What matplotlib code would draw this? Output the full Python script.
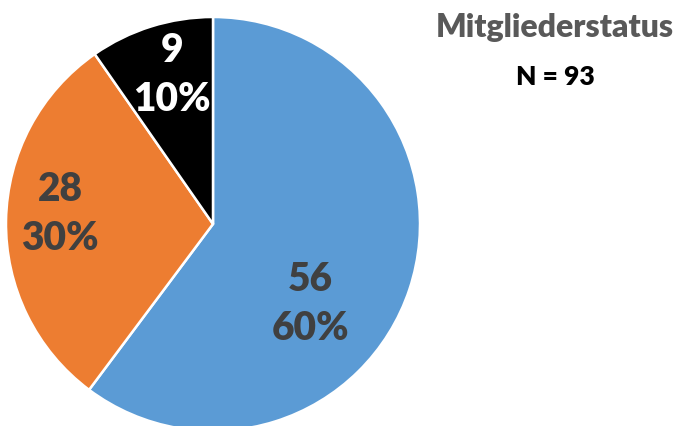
import matplotlib
matplotlib.use('Agg')
import matplotlib.pyplot as plt

plt.rcParams['font.family'] = ['Lato', 'DejaVu Sans']

# data
categories = ['A', 'B', 'C']
counts = [56, 28, 9]
percents = ['60%', '30%', '10%']
colors = ['#5B9BD5', '#ED7D31', '#000000']
label_colors = ['#404040', '#404040', '#FFFFFF']
title = 'Mitgliederstatus'
subtitle = 'N = 93'

# label placement in axes data units (Excel puts them off the wedge middle)
label_pos = [(0.469, -0.382), (-0.739, 0.053), (-0.198, 0.725)]

fig = plt.figure(figsize=(6.87, 4.27), dpi=100)
r_px = 207
cx, cy = 213, 225
ax = fig.add_axes([(cx - r_px) / 687, (427 - cy - r_px) / 427,
                   2 * r_px / 687, 2 * r_px / 427])

ax.pie(counts, colors=colors, startangle=90, counterclock=False,
       wedgeprops=dict(edgecolor='white', linewidth=1.8), radius=1)
ax.set_xlim(-1, 1)
ax.set_ylim(-1, 1)
ax.set_aspect('auto')

for n, p, c, (x, y) in zip(counts, percents, label_colors, label_pos):
    ax.text(x, y, f'{n}\n{p}', ha='center', va='center', fontsize=28,
            fontweight='heavy', color=c, linespacing=1.42)

fig.text(555 / 687, 1 - 28 / 427, title, ha='center', va='center',
         fontsize=23, fontweight='heavy', color='#595959')
fig.text(555 / 687, 1 - 77 / 427, subtitle, ha='center', va='center',
         fontsize=19, fontweight='heavy', color='black')

fig.savefig('out.png', dpi=100)
